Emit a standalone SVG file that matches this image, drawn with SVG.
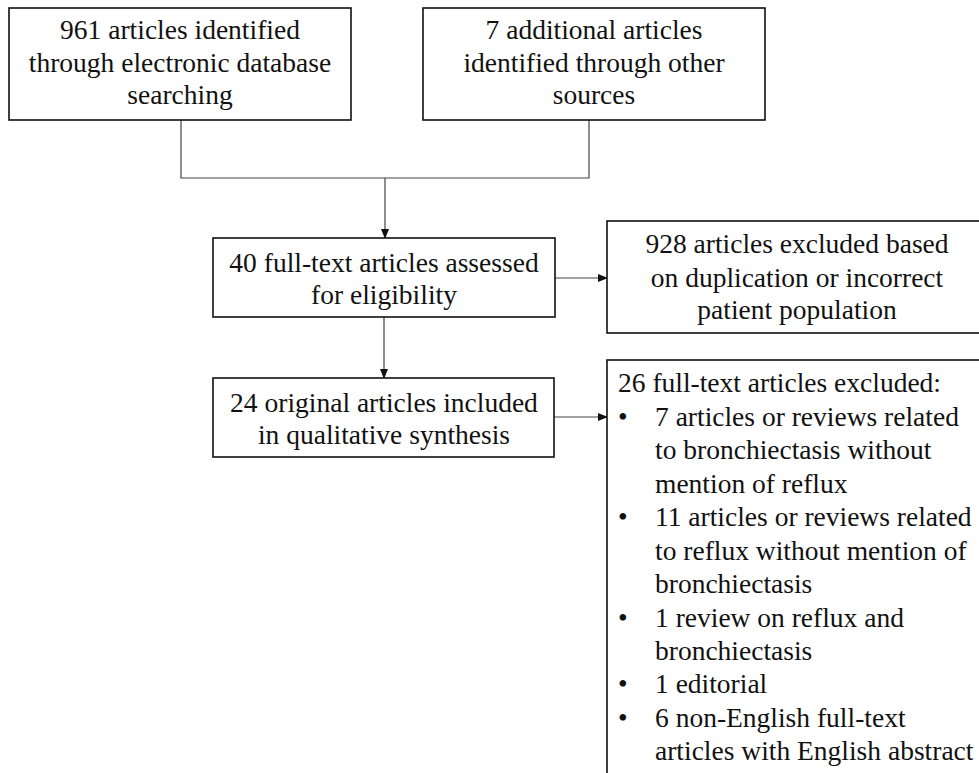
<svg xmlns="http://www.w3.org/2000/svg" width="979" height="773" viewBox="0 0 979 773">
<style>
.box{fill:#fff;stroke:#111;stroke-width:1.6}
.ln{fill:none;stroke:#444;stroke-width:1.2}
.t{font-family:'Liberation Serif','Times New Roman',serif !important;font-size:27.5px;fill:#111}
.c{text-anchor:middle}
</style>
<defs>
<marker id="ah" markerWidth="10" markerHeight="8" refX="9" refY="4" orient="auto" markerUnits="userSpaceOnUse">
<path d="M0,0 L10,4 L0,8 Z" fill="#111"/>
</marker>
</defs>
<rect width="979" height="773" fill="#fff"/>
<g id="connectors">
<path class="ln" d="M181,120 V178 H589 V120"/>
<path class="ln" d="M385,178 V238" marker-end="url(#ah)"/>
<path class="ln" d="M555,278 H607" marker-end="url(#ah)"/>
<path class="ln" d="M384,317 V378" marker-end="url(#ah)"/>
<path class="ln" d="M554,417 H607" marker-end="url(#ah)"/>
</g>
<g id="n1">
<rect class="box" x="9" y="8" width="342" height="112"/>
<text class="t c" style="font-family:'Liberation Serif',serif !important" x="180" y="39">961 articles identified</text>
<text class="t c" style="font-family:'Liberation Serif',serif !important" x="180" y="72">through electronic database</text>
<text class="t c" style="font-family:'Liberation Serif',serif !important" x="180" y="104">searching</text>
</g>
<g id="n2">
<rect class="box" x="423" y="8" width="342" height="112"/>
<text class="t c" style="font-family:'Liberation Serif',serif !important" x="594" y="39">7 additional articles</text>
<text class="t c" style="font-family:'Liberation Serif',serif !important" x="594" y="72">identified through other</text>
<text class="t c" style="font-family:'Liberation Serif',serif !important" x="594" y="104">sources</text>
</g>
<g id="n3">
<rect class="box" x="213" y="238" width="342" height="79"/>
<text class="t c" style="font-family:'Liberation Serif',serif !important" x="384" y="272">40 full-text articles assessed</text>
<text class="t c" style="font-family:'Liberation Serif',serif !important" x="384" y="304">for eligibility</text>
</g>
<g id="n4">
<rect class="box" x="607" y="221" width="385" height="112"/>
<text class="t c" style="font-family:'Liberation Serif',serif !important" x="797" y="253">928 articles excluded based</text>
<text class="t c" style="font-family:'Liberation Serif',serif !important" x="797" y="287">on duplication or incorrect</text>
<text class="t c" style="font-family:'Liberation Serif',serif !important" x="797" y="319">patient population</text>
</g>
<g id="n5">
<rect class="box" x="213" y="378" width="341" height="79"/>
<text class="t c" style="font-family:'Liberation Serif',serif !important" x="384" y="412">24 original articles included</text>
<text class="t c" style="font-family:'Liberation Serif',serif !important" x="384" y="444">in qualitative synthesis</text>
</g>
<g id="n6">
<rect class="box" x="607" y="360" width="385" height="430"/>
<text class="t" style="font-family:'Liberation Serif',serif !important" x="618" y="392">26 full-text articles excluded:</text>
<text class="t" style="font-family:'Liberation Serif',serif !important" x="618" y="426">&#8226;</text>
<text class="t" style="font-family:'Liberation Serif',serif !important" x="655" y="426">7 articles or reviews related</text>
<text class="t" style="font-family:'Liberation Serif',serif !important" x="655" y="459">to bronchiectasis without</text>
<text class="t" style="font-family:'Liberation Serif',serif !important" x="655" y="493">mention of reflux</text>
<text class="t" style="font-family:'Liberation Serif',serif !important" x="618" y="526">&#8226;</text>
<text class="t" style="font-family:'Liberation Serif',serif !important" x="655" y="526">11 articles or reviews related</text>
<text class="t" style="font-family:'Liberation Serif',serif !important" x="655" y="560">to reflux without mention of</text>
<text class="t" style="font-family:'Liberation Serif',serif !important" x="655" y="593">bronchiectasis</text>
<text class="t" style="font-family:'Liberation Serif',serif !important" x="618" y="627">&#8226;</text>
<text class="t" style="font-family:'Liberation Serif',serif !important" x="655" y="627">1 review on reflux and</text>
<text class="t" style="font-family:'Liberation Serif',serif !important" x="655" y="660">bronchiectasis</text>
<text class="t" style="font-family:'Liberation Serif',serif !important" x="618" y="693">&#8226;</text>
<text class="t" style="font-family:'Liberation Serif',serif !important" x="655" y="693">1 editorial</text>
<text class="t" style="font-family:'Liberation Serif',serif !important" x="618" y="727">&#8226;</text>
<text class="t" style="font-family:'Liberation Serif',serif !important" x="655" y="727">6 non-English full-text</text>
<text class="t" style="font-family:'Liberation Serif',serif !important" x="655" y="760">articles with English abstract</text>
</g>
</svg>
